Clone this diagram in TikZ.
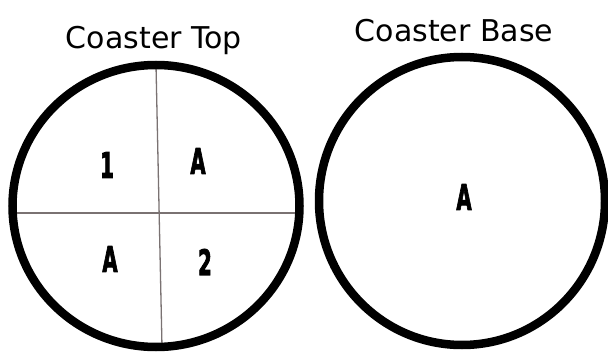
\documentclass[tikz,border=0pt]{standalone}
\usepackage{graphicx}
\usepackage{fontspec}
\setmainfont{DejaVu Sans}
\newfontfamily\partfont{DejaVu Sans Bold}[FakeBold=3]
\usepackage{tikz}
\usetikzlibrary{positioning}
\definecolor{cutgray}{HTML}{7A7272}
\newcommand{\squeeze}[1]{\scalebox{0.56}[1]{#1}}
\tikzset{
  rim/.style={draw=black,line width=8.5pt},
  cutline/.style={draw=cutgray,line width=1.3pt},
  title/.style={font=\fontsize{30}{30}\selectfont,anchor=base,inner sep=0pt},
  partlabel/.style={font=\partfont\fontsize{35}{35}\selectfont,inner sep=0pt}
}

\begin{document}
\begin{tikzpicture}[x=1pt,y=-1pt]
  \useasboundingbox (0,0) rectangle (608,353);
  \fill[white] (0,0) rectangle (608,353);
  \coordinate (topc) at (156,206);
  \coordinate (basec) at (462,201);
  % quarter lines of the top
  \coordinate (hl) at (17,213);
  \coordinate (hr) at (297,213);
  \coordinate (vt) at (156,65);
  \coordinate (vb) at (162,347);
  \draw[cutline] (hl) -- (hr);
  \draw[cutline] (vt) -- (vb);
  \draw[rim] (topc) ellipse[x radius=143.5,y radius=141];
  \draw[rim] (basec) ellipse[x radius=143,y radius=144];
  % titles
  \node[title] (toptitle) at (154,49) {Coaster Top};
  \node[title] (basetitle) at (454,42) {Coaster Base};
  % parts
  \node[partlabel] (one) at (107,165) {\squeeze{1}};
  \node[partlabel] (topA) at (198,161) {\squeeze{A}};
  \node[partlabel] (lowA) at (110,259) {\squeeze{A}};
  \node[partlabel] (two) at (205,262) {\squeeze{2}};
  \node[partlabel] (baseA) at (464,197) {\squeeze{A}};
\end{tikzpicture}
\end{document}
